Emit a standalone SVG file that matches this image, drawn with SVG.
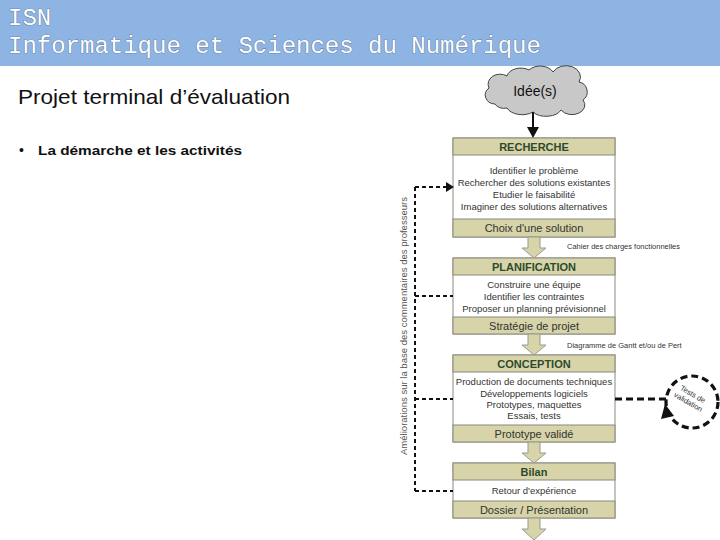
<svg xmlns="http://www.w3.org/2000/svg" width="720" height="540" viewBox="0 0 720 540">
<style>
.hdr{font-family:"Liberation Mono",monospace;font-size:24px;fill:#ffffff;stroke:#4f6482;stroke-width:0.7;paint-order:stroke}
.band{fill:#D6D4A8;stroke:#8a8a80;stroke-width:1}
.body{fill:#ffffff;stroke:#8a8a80;stroke-width:1}
.ttl{font-family:"Liberation Sans",Arial,sans-serif;font-weight:bold;font-size:11px;fill:#2E4A2E;text-anchor:middle}
.ln{font-family:"Liberation Sans",Arial,sans-serif;font-size:9.5px;fill:#333333;text-anchor:middle}
.ft{font-family:"Liberation Sans",Arial,sans-serif;font-size:11px;fill:#333333;text-anchor:middle}
.note{font-family:"Liberation Sans",Arial,sans-serif;font-size:7.5px;fill:#333333}
.blk{fill:#D6D4A8;stroke:#9a9a90;stroke-width:1}
.dash{fill:none;stroke:#111111;stroke-width:2;stroke-dasharray:4 3}
.dash2{fill:none;stroke:#111111;stroke-width:3.2;stroke-dasharray:7 4}
</style>
<rect x="0" y="0" width="720" height="66" fill="#8DB4E2"/>
<text class="hdr" x="8" y="25">ISN</text>
<text class="hdr" x="8" y="53">Informatique et Sciences du Numérique</text>
<text x="18" y="104" font-family="Liberation Sans,Arial,sans-serif" font-size="21" fill="#111" textLength="272" lengthAdjust="spacingAndGlyphs">Projet terminal d’évaluation</text>
<text x="19" y="155" font-family="Liberation Sans,Arial,sans-serif" font-size="14" fill="#111">•</text>
<text x="38" y="155" font-family="Liberation Sans,Arial,sans-serif" font-size="13.5" font-weight="bold" fill="#111" textLength="204" lengthAdjust="spacingAndGlyphs">La démarche et les activités</text>

<g id="idee">
<path d="M495,104 a10,9 0 0 1 -6,-16 a12,10 0 0 1 18,-12 a14,10 0 0 1 22,-6 a14,10 0 0 1 24,2 a14,11 0 0 1 26,10 a10,10 0 0 1 4,18 a12,9 0 0 1 -22,10 a16,10 0 0 1 -28,2 a16,10 0 0 1 -26,-4 a10,8 0 0 1 -12,-4 Z" fill="#C8C8C8" stroke="#444" stroke-width="1"/>
<text x="535" y="96" font-family="Liberation Sans,Arial,sans-serif" font-size="14" fill="#111" text-anchor="middle">Idée(s)</text>
</g>

<g id="recherche">
<rect class="body" x="453" y="138" width="162" height="99"/>
<rect class="band" x="453" y="138" width="162" height="17"/>
<rect class="band" x="453" y="219" width="162" height="18"/>
<text class="ttl" x="534" y="151">RECHERCHE</text>
<text class="ln" x="534" y="174">Identifier le problème</text>
<text class="ln" x="534" y="186">Rechercher des solutions existantes</text>
<text class="ln" x="534" y="198">Etudier le faisabilité</text>
<text class="ln" x="534" y="210">Imaginer des solutions alternatives</text>
<text class="ft" x="534" y="232">Choix d'une solution</text>
</g>

<g id="planification">
<rect class="body" x="453" y="258" width="162" height="76"/>
<rect class="band" x="453" y="258" width="162" height="17"/>
<rect class="band" x="453" y="317" width="162" height="17"/>
<text class="ttl" x="534" y="271">PLANIFICATION</text>
<text class="ln" x="534" y="288">Construire une équipe</text>
<text class="ln" x="534" y="300">Identifier les contraintes</text>
<text class="ln" x="534" y="312">Proposer un planning prévisionnel</text>
<text class="ft" x="534" y="330">Stratégie de projet</text>
</g>

<g id="conception">
<rect class="body" x="453" y="355" width="162" height="87"/>
<rect class="band" x="453" y="355" width="162" height="17"/>
<rect class="band" x="453" y="425" width="162" height="17"/>
<text class="ttl" x="534" y="368">CONCEPTION</text>
<text class="ln" x="534" y="385">Production de documents techniques</text>
<text class="ln" x="534" y="397">Développements logiciels</text>
<text class="ln" x="534" y="408">Prototypes, maquettes</text>
<text class="ln" x="534" y="419">Essais, tests</text>
<text class="ft" x="534" y="438">Prototype validé</text>
</g>

<g id="bilan">
<rect class="body" x="453" y="463" width="162" height="55"/>
<rect class="band" x="453" y="463" width="162" height="17"/>
<rect class="band" x="453" y="501" width="162" height="17"/>
<text class="ttl" x="534" y="476">Bilan</text>
<text class="ln" x="534" y="494">Retour d'expérience</text>
<text class="ft" x="534" y="514">Dossier / Présentation</text>
</g>

<g id="tests">
<circle class="dash2" cx="692" cy="402" r="26"/>
<polygon points="665,404 661,419 674,416" fill="#111"/>
<g transform="rotate(30 690 399)">
<text class="note" x="690" y="396" text-anchor="middle">Tests de</text>
<text class="note" x="690" y="405" text-anchor="middle">validation</text>
</g>
</g>

<g id="connectors">
<line x1="533" y1="112" x2="533" y2="128" stroke="#111" stroke-width="2"/>
<polygon points="527,127 539,127 533,138" fill="#111"/>
<polygon class="blk" points="528,237 540,237 540,248 546,248 534,258 522,248 528,248"/>
<polygon class="blk" points="528,334 540,334 540,345 546,345 534,355 522,345 528,345"/>
<polygon class="blk" points="528,442 540,442 540,453 546,453 534,463 522,453 528,453"/>
<polygon class="blk" points="528,518 540,518 540,529 546,529 534,540 522,529 528,529"/>
<text class="note" x="567" y="249">Cahier des charges fonctionnelles</text>
<text class="note" x="567" y="348">Diagramme de Gantt et/ou de Pert</text>
<path class="dash" d="M415,187 V491"/>
<path class="dash" d="M415,187 H447"/>
<polygon points="446,182 446,192 454,187" fill="#111"/>
<path class="dash" d="M415,296 H453"/>
<path class="dash" d="M415,399 H453"/>
<path class="dash" d="M415,491 H453"/>
<path class="dash2" d="M615,399 H666"/>
<text transform="rotate(-90 407 326)" x="407" y="326" font-family="Liberation Sans,Arial,sans-serif" font-size="9.5" fill="#555" text-anchor="middle" textLength="258" lengthAdjust="spacingAndGlyphs">Améliorations sur la base des commentaires des professeurs</text>
</g>
</svg>
